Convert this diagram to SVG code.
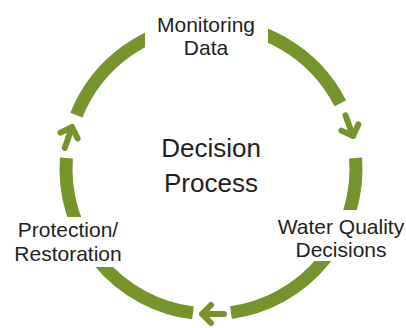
<svg xmlns="http://www.w3.org/2000/svg" width="406" height="328" viewBox="0 0 406 328">
  <style>
    .lbl { font-family: "Liberation Sans", Arial, sans-serif; font-size: 21px; fill: #231f20; text-anchor: middle; }
    .ctr { font-family: "Liberation Sans", Arial, sans-serif; font-size: 26px; fill: #231f20; text-anchor: middle; }
    .arc { fill: none; stroke: #77942c; stroke-width: 13; stroke-linecap: butt; }
    .arw { fill: none; stroke: #77942c; stroke-width: 6; stroke-linecap: round; stroke-linejoin: round; }
  </style>
  <defs>
    <path id="arrowhead" d="M-22,0 L0,0 M-9,-9 L0,0 L-9,9"/>
    <mask id="textgaps" maskUnits="userSpaceOnUse" x="0" y="0" width="406" height="328">
      <rect x="0" y="0" width="406" height="328" fill="#fff"/>
      <rect x="145" y="0" width="123" height="70" fill="#000"/>
      <rect x="280" y="210" width="126" height="51" fill="#000"/>
      <rect x="0" y="217" width="150" height="50" fill="#000"/>
    </mask>
  </defs>
  <rect x="0" y="0" width="406" height="328" fill="#fff"/>
  <g id="connectors">
    <g mask="url(#textgaps)">
      <path class="arc" d="M76.4,115.1 A145,145 0 0 1 340.3,103.4"/>
      <path class="arc" d="M355.6,158.1 A145,145 0 0 1 231.0,312.6"/>
      <path class="arc" d="M193.0,312.9 A145,145 0 0 1 66.4,158.1"/>
    </g>
    <use href="#arrowhead" class="arw" transform="translate(353,136) rotate(70)"/>
    <use href="#arrowhead" class="arw" transform="translate(202,314) rotate(180)"/>
    <use href="#arrowhead" class="arw" transform="translate(72,127) rotate(-71)"/>
  </g>
  <g id="node-monitoring">
    <text class="lbl" x="206" y="32">Monitoring</text>
    <text class="lbl" x="206" y="55">Data</text>
  </g>
  <g id="node-decisions">
    <text class="lbl" x="341" y="234">Water Quality</text>
    <text class="lbl" x="341" y="257">Decisions</text>
  </g>
  <g id="node-protection">
    <text class="lbl" x="68" y="237">Protection/</text>
    <text class="lbl" x="68" y="261">Restoration</text>
  </g>
  <g id="node-center">
    <text class="ctr" x="211" y="157">Decision</text>
    <text class="ctr" x="211" y="192">Process</text>
  </g>
</svg>
